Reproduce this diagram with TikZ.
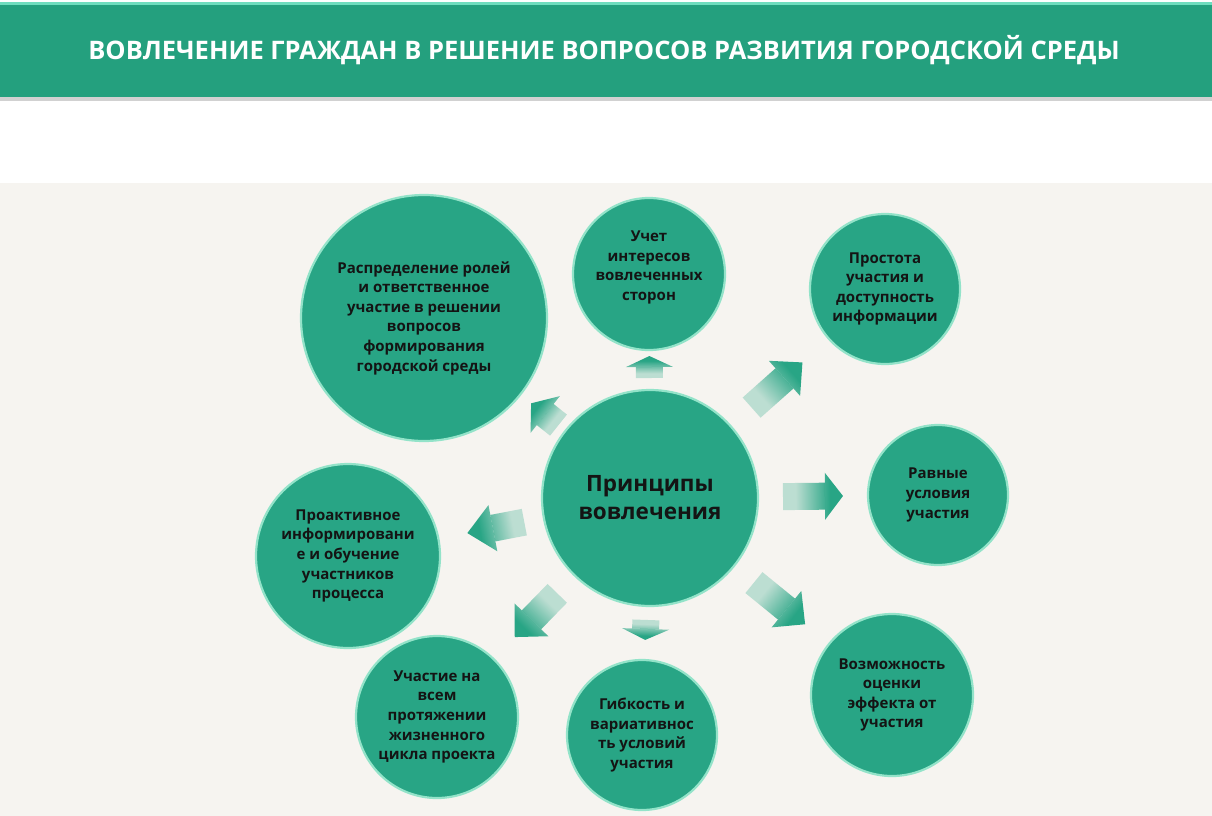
\documentclass[tikz,border=0pt]{standalone}
\usepackage{fontspec}
\setmainfont{Open Sans}
\usepackage{tikz}
\usetikzlibrary{arrows.meta,calc,fadings}
\definecolor{bargreen}{HTML}{24A07E}
\definecolor{barlight}{HTML}{6FDDBE}
\definecolor{ballgreen}{HTML}{28A585}
\definecolor{rimgreen}{HTML}{93E3C9}
\definecolor{paper}{HTML}{F6F4F0}
\definecolor{ink}{HTML}{141414}
\tikzfading[name=tailfade,left color=transparent!72,right color=transparent!0]
\tikzset{princ/.style={circle,draw=rimgreen,line width=2.2pt,fill=ballgreen,inner sep=0pt,align=center,text=ink,font=\bfseries\fontsize{15}{19.6}\selectfont},flow/.style={draw=ballgreen,line width=27pt,-{Triangle[width=47pt,length=#1,line width=0pt]}},flow/.default=20pt}

\begin{document}
\begin{tikzpicture}[x=1pt,y=-1pt,
core/.style={princ,font=\bfseries\fontsize{22.5}{28}\selectfont},
headline/.style={text=white,font=\bfseries\fontsize{25.5}{30}\selectfont}]
\useasboundingbox (0,0) rectangle (1212,816);
\fill[white] (0,0) rectangle (1212,816);
\fill[paper] (0,183) rectangle (1212,816);
\fill[black!18] (0,97) rectangle (1212,101);
\fill[bargreen] (0,2) rectangle (1212,97);
\fill[barlight] (0,2) rectangle (1212,5);
\node[headline] (title) at (604,50) {ВОВЛЕЧЕНИЕ ГРАЖДАН В РЕШЕНИЕ ВОПРОСОВ РАЗВИТИЯ ГОРОДСКОЙ СРЕДЫ};
\node[core,minimum size=216pt] (pc) at (650,498) {Принципы\\вовлечения};
\node[princ,minimum size=246pt] (tl) at (424,318) {Распределение ролей\\и ответственное\\участие в решении\\вопросов\\формирования\\городской среды};
\node[princ,minimum size=152pt,text depth=17pt] (t) at (649,274) {Учет\\интересов\\вовлеченных\\сторон};
\node[princ,minimum size=150pt] (tr) at (885,289) {Простота\\участия и\\доступность\\информации};
\node[princ,minimum size=140pt] (r) at (938,495) {Равные\\условия\\участия};
\node[princ,minimum size=162pt] (br) at (892,695) {Возможность\\оценки\\эффекта от\\участия};
\node[princ,minimum size=150pt] (b) at (642,735) {Гибкость и\\вариативнос\\ть условий\\участия};
\node[princ,minimum size=162pt] (bl) at (437,717) {Участие на\\всем\\протяжении\\жизненного\\цикла проекта};
\node[princ,minimum size=184pt] (l) at (348,556) {Проактивное\\информировани\\е и обучение\\участников\\процесса};
\foreach \n/\a/\b/\ang/\hl in {t/120/142/90/11pt,tr/136/204/41.6/24pt,r/133/193/0.6/18pt,br/134/200/-39.1/24pt,b/122/142/-92/11pt,bl/133/194/-134.2/24pt,l/128/186/190.9/26pt,tl/117/152/141.5/18pt}{
  \pgfmathsetmacro\fs{(\b-\a)*0.0115}
  \pgfmathsetmacro\md{(\a+\b)/2}
  \draw[flow=\hl,path fading=tailfade,fit fading=false,fading transform={shift={($(pc)!\md pt!(\n)$)},rotate=\ang,xscale=\fs,yscale=0.7}] ($(pc)!\a pt!(\n)$) -- ($(pc)!\b pt!(\n)$);
}
\end{tikzpicture}
\end{document}
